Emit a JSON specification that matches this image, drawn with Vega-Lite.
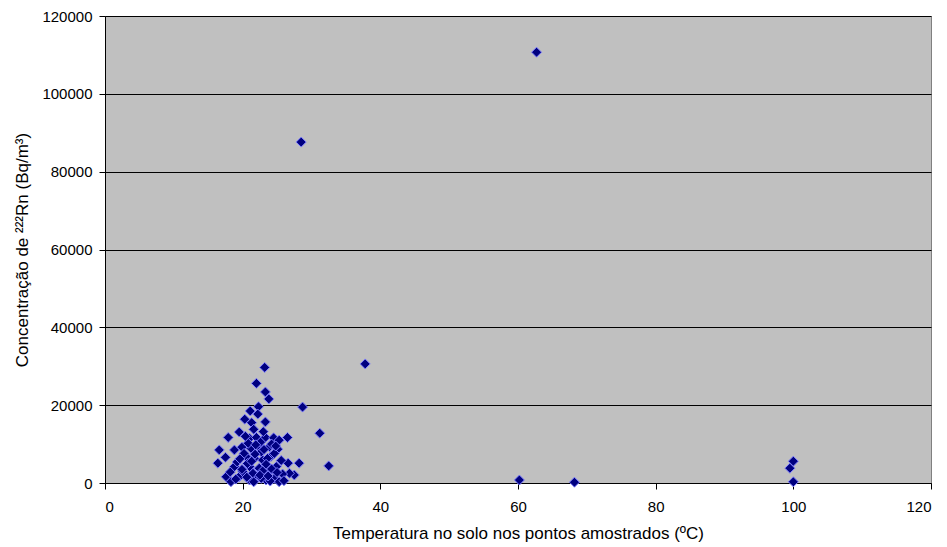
{
  "$schema": "https://vega.github.io/schema/vega-lite/v6.json",
  "autosize": "none",
  "padding": {"left": 105, "top": 16, "right": 15, "bottom": 64},
  "width": 826,
  "height": 467,
  "background": "white",
  "config": {
    "view": {"fill": "#C0C0C0", "stroke": "#808080", "strokeWidth": 1},
    "font": "Liberation Sans",
    "axis": {
      "labelFont": "Liberation Sans",
      "titleFont": "Liberation Sans",
      "labelFontSize": 15,
      "titleFontSize": 17,
      "labelColor": "black",
      "titleColor": "black",
      "titleFontWeight": "normal",
      "domainColor": "black",
      "tickColor": "black",
      "tickSize": 6
    }
  },
  "data": {
    "values": [
      {"T": 62.7, "C": 110700},
      {"T": 28.5, "C": 87600},
      {"T": 37.8, "C": 30600},
      {"T": 28.7, "C": 19500},
      {"T": 31.2, "C": 12800},
      {"T": 32.5, "C": 4400},
      {"T": 60.2, "C": 770},
      {"T": 68.2, "C": 200},
      {"T": 100.0, "C": 5600},
      {"T": 99.5, "C": 3800},
      {"T": 100.0, "C": 300},
      {"T": 23.2, "C": 29700},
      {"T": 22.0, "C": 25600},
      {"T": 23.3, "C": 23400},
      {"T": 23.8, "C": 21600},
      {"T": 22.3, "C": 19600},
      {"T": 21.1, "C": 18500},
      {"T": 22.2, "C": 17700},
      {"T": 20.3, "C": 16400},
      {"T": 21.3, "C": 15500},
      {"T": 23.3, "C": 15700},
      {"T": 19.5, "C": 13100},
      {"T": 17.9, "C": 11700},
      {"T": 21.0, "C": 11500},
      {"T": 22.0, "C": 11700},
      {"T": 23.3, "C": 11700},
      {"T": 24.5, "C": 11600},
      {"T": 26.5, "C": 11700},
      {"T": 25.3, "C": 11000},
      {"T": 16.6, "C": 8500},
      {"T": 18.8, "C": 8500},
      {"T": 19.9, "C": 9200},
      {"T": 21.2, "C": 8900},
      {"T": 22.4, "C": 9300},
      {"T": 23.9, "C": 9300},
      {"T": 25.1, "C": 8700},
      {"T": 17.5, "C": 6600},
      {"T": 20.5, "C": 6800},
      {"T": 21.7, "C": 6300},
      {"T": 22.9, "C": 5900},
      {"T": 24.1, "C": 6800},
      {"T": 26.6, "C": 5100},
      {"T": 28.2, "C": 5100},
      {"T": 16.4, "C": 5100},
      {"T": 18.8, "C": 4200},
      {"T": 21.0, "C": 4200},
      {"T": 22.4, "C": 3800},
      {"T": 24.9, "C": 4200},
      {"T": 17.6, "C": 1600},
      {"T": 18.3, "C": 330},
      {"T": 19.5, "C": 1600},
      {"T": 21.0, "C": 770},
      {"T": 22.2, "C": 1600},
      {"T": 23.4, "C": 770},
      {"T": 24.6, "C": 1200},
      {"T": 25.3, "C": 330},
      {"T": 27.5, "C": 2050},
      {"T": 26.8, "C": 2500},
      {"T": 23.9, "C": 2900},
      {"T": 21.5, "C": 2500},
      {"T": 20.0, "C": 2900},
      {"T": 22.7, "C": 8000},
      {"T": 23.6, "C": 6300},
      {"T": 20.8, "C": 10200},
      {"T": 22.6, "C": 10500},
      {"T": 24.2, "C": 10000},
      {"T": 20.2, "C": 7600},
      {"T": 21.8, "C": 7400},
      {"T": 24.6, "C": 7600},
      {"T": 19.2, "C": 5400},
      {"T": 20.7, "C": 5000},
      {"T": 23.4, "C": 4800},
      {"T": 25.6, "C": 5800},
      {"T": 19.9, "C": 3500},
      {"T": 22.9, "C": 3100},
      {"T": 24.2, "C": 3600},
      {"T": 25.8, "C": 2300},
      {"T": 20.6, "C": 1500},
      {"T": 22.7, "C": 1200},
      {"T": 24.0, "C": 500},
      {"T": 21.6, "C": 300},
      {"T": 19.0, "C": 1000},
      {"T": 23.0, "C": 13200},
      {"T": 21.6, "C": 13800},
      {"T": 24.8, "C": 9500},
      {"T": 18.2, "C": 2800},
      {"T": 26.0, "C": 600},
      {"T": 21.9, "C": 9800},
      {"T": 23.1, "C": 8600},
      {"T": 20.4, "C": 12000},
      {"T": 22.5, "C": 2000},
      {"T": 23.7, "C": 1800},
      {"T": 21.3, "C": 5600},
      {"T": 25.0, "C": 2700},
      {"T": 19.6, "C": 6200}
    ]
  },
  "mark": {
    "type": "point",
    "shape": "diamond",
    "filled": true,
    "size": 100,
    "color": "#000080",
    "stroke": "#8080FF",
    "strokeWidth": 1,
    "opacity": 1
  },
  "encoding": {
    "x": {
      "field": "T",
      "type": "quantitative",
      "scale": {"domain": [0, 120], "nice": false, "zero": true},
      "axis": {
        "values": [0, 20, 40, 60, 80, 100, 120],
        "grid": false,
        "title": "Temperatura no solo nos pontos amostrados (ºC)",
        "titlePadding": 11,
        "labelPadding": 10
      }
    },
    "y": {
      "field": "C",
      "type": "quantitative",
      "scale": {"domain": [0, 120000], "nice": false},
      "axis": {
        "values": [0, 20000, 40000, 60000, 80000, 100000, 120000],
        "format": "d",
        "grid": true,
        "gridColor": "black",
        "gridWidth": 1,
        "title": "Concentração de ²²²Rn (Bq/m³)",
        "titlePadding": 10,
        "labelPadding": 7
      }
    }
  }
}
